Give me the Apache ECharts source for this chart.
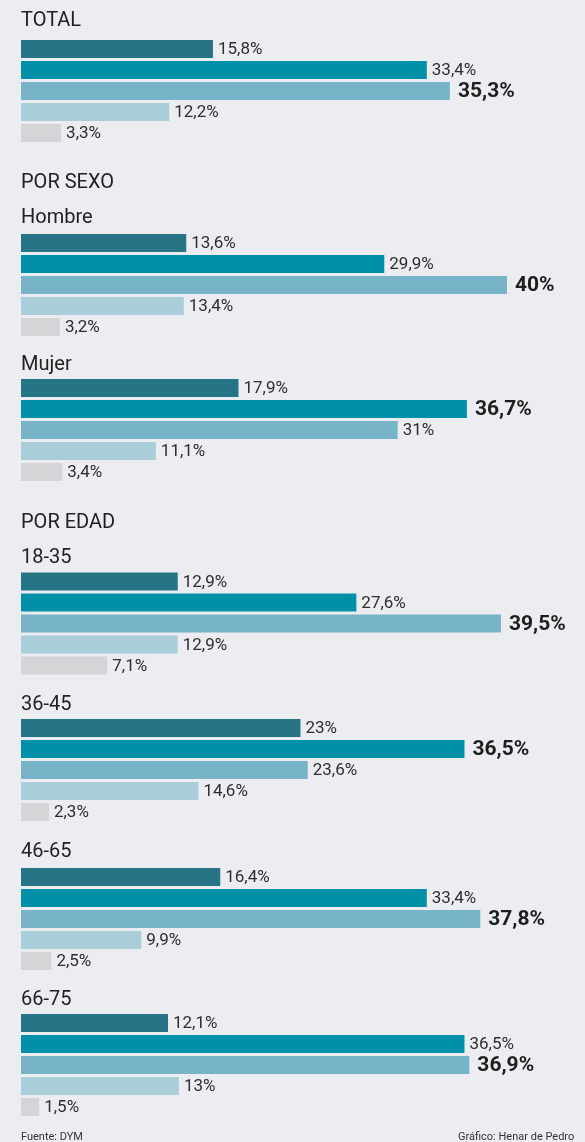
<!DOCTYPE html>
<html>
<head>
<meta charset="utf-8">
<script src="https://cdn.jsdelivr.net/npm/echarts@6/dist/echarts.min.js"></script>
<style>
html,body{margin:0;padding:0;background:#ecedf0;}
#c{width:585px;height:1142px;}
</style>
</head>
<body>
<div id="c"></div>
<script>
// ---- data ----
const groupNames = ['TOTAL', 'Hombre', 'Mujer', '18-35', '36-45', '46-65', '66-75'];
const sectionTitles = ['POR SEXO', 'POR EDAD'];
const rowKeys = ['r1', 'r2', 'r3', 'r4', 'r5'];
const total  = [15.8, 33.4, 35.3, 12.2, 3.3];
const hombre = [13.6, 29.9, 40, 13.4, 3.2];
const mujer  = [17.9, 36.7, 31, 11.1, 3.4];
const e18_35 = [12.9, 27.6, 39.5, 12.9, 7.1];
const e36_45 = [23, 36.5, 23.6, 14.6, 2.3];
const e46_65 = [16.4, 33.4, 37.8, 9.9, 2.5];
const e66_75 = [12.1, 36.5, 36.9, 13, 1.5];
const sourceText = 'Fuente: DYM';
const creditText = 'Gráfico: Henar de Pedro';

const groupValues = [total, hombre, mujer, e18_35, e36_45, e46_65, e66_75];

// ---- styling / layout ----
const rowColors = ['#277486', '#0090a7', '#77b4c7', '#a9ced9', '#d4d5d7'];
const gridTops = [38.5, 232.5, 377.5, 571, 717.5, 866.5, 1012.5];
const groupLabelY = [19.5, 217, 363.5, 556.7, 703.5, 850.5, 998.7];
const sectionY = [182, 522];
const FONT = 'Roboto, "Noto Sans", sans-serif';

function fmt(v) {
  return (Number.isInteger(v) ? String(v) : v.toFixed(1).replace('.', ',')) + '%';
}

const grids = [], xAxes = [], yAxes = [], series = [], graphics = [];
groupValues.forEach((vals, gi) => {
  const maxV = Math.max(...vals);
  grids.push({ left: 21, width: 46 * 12.15, top: gridTops[gi], height: 105, containLabel: false });
  xAxes.push({ gridIndex: gi, type: 'value', min: 0, max: 46, show: false });
  yAxes.push({ gridIndex: gi, type: 'category', data: rowKeys, inverse: true, show: false });
  series.push({
    type: 'bar',
    xAxisIndex: gi, yAxisIndex: gi,
    barWidth: 18,
    silent: true,
    animation: false,
    data: vals.map((v, i) => {
      const isMax = v === maxV;
      return {
        value: v,
        itemStyle: { color: rowColors[i] },
        label: {
          show: true,
          position: 'right',
          distance: isMax ? 8 : 5,
          offset: [0, 1],
          formatter: fmt(v),
          fontFamily: FONT,
          fontSize: isMax ? 21 : 17,
          fontWeight: isMax ? 'bold' : 'normal',
          color: isMax ? '#1e1e1e' : '#2e2e2e'
        }
      };
    })
  });
  graphics.push({
    type: 'text', left: 21, top: groupLabelY[gi] - 9,
    style: { text: groupNames[gi], font: '20px ' + FONT, fill: '#222' }
  });
});
sectionTitles.forEach((t, i) => {
  graphics.push({
    type: 'text', left: 21, top: sectionY[i] - 9,
    style: { text: t, font: '20px ' + FONT, fill: '#222' }
  });
});
graphics.push({ type: 'text', left: 21, top: 1132, style: { text: sourceText, font: '11px ' + FONT, fill: '#333' } });
graphics.push({ type: 'text', left: 458, top: 1132, style: { text: creditText, font: '11px ' + FONT, fill: '#333' } });

const chart = echarts.init(document.getElementById('c'), null, { renderer: 'canvas' });
chart.setOption({
  backgroundColor: '#ecedf0',
  animation: false,
  grid: grids,
  xAxis: xAxes,
  yAxis: yAxes,
  series: series,
  graphic: graphics
});
</script>
</body>
</html>
